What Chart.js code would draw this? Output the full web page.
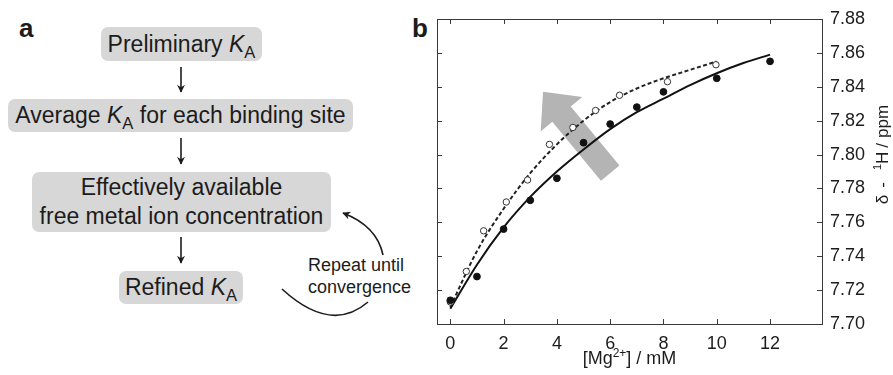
<!DOCTYPE html>
<html>
<head>
<meta charset="utf-8">
<script src="https://cdn.jsdelivr.net/npm/chart.js@4.4.1/dist/chart.umd.min.js"></script>
<style>
  html, body { margin: 0; padding: 0; background: #fff; }
  body { width: 893px; height: 375px; position: relative; overflow: hidden;
         font-family: "Liberation Sans", Arial, sans-serif; color: #1c1c1c; }
  .panel { position: absolute; font-weight: bold; font-size: 26px; line-height: 1; }
  .box { position: absolute; background: #d7d7d7; border-radius: 7px;
         display: flex; flex-direction: column; align-items: center; justify-content: center;
         font-size: 23px; line-height: 29px; white-space: nowrap; }
  .box sub { font-size: 0.72em; line-height: 0; vertical-align: -0.38em; }
  .note { position: absolute; font-size: 18px; line-height: 22px; left: 308px; top: 254px; }
  #flowArrows { position: absolute; left: 0; top: 0; }
  #chartWrap { position: absolute; left: 420px; top: 0; width: 473px; height: 375px; }
</style>
</head>
<body>

<div class="panel" style="left:19px;top:15px">a</div>
<div class="panel" style="left:412px;top:15px">b</div>

<div class="box" style="left:101px;top:27px;width:161px;height:34px"><span>Preliminary <i>K</i><sub>A</sub></span></div>
<div class="box" style="left:8px;top:99px;width:345px;height:33px"><span>Average <i>K</i><sub>A</sub> for each binding site</span></div>
<div class="box" style="left:32px;top:172px;width:299px;height:60px"><span>Effectively available</span><span>free metal ion concentration</span></div>
<div class="box" style="left:119px;top:271px;width:124px;height:33px"><span>Refined <i>K</i><sub>A</sub></span></div>
<div class="note">Repeat until<br>convergence</div>

<svg id="flowArrows" width="420" height="375">
  <defs>
    <marker id="head" viewBox="0 0 10 10" refX="9" refY="5" markerWidth="8" markerHeight="8" orient="auto" markerUnits="userSpaceOnUse">
      <path d="M0,0 L10,5 L0,10 L3,5 Z" fill="#1c1c1c"/>
    </marker>
  </defs>
  <g stroke="#1c1c1c" stroke-width="1.6" fill="none">
    <line x1="181" y1="67" x2="181" y2="92" marker-end="url(#head)"/>
    <line x1="181" y1="138" x2="181" y2="164" marker-end="url(#head)"/>
    <line x1="181" y1="237" x2="181" y2="263" marker-end="url(#head)"/>
    <path d="M383,255 Q377,226 343,213" marker-end="url(#head)"/>
    <path d="M282,289 Q331,334 368,302"/>
  </g>
</svg>

<div id="chartWrap"><canvas id="shiftChart"></canvas></div>

<script>
// tick labels
const xTicks = [0, 2, 4, 6, 8, 10, 12];
const yTicks = [7.70, 7.72, 7.74, 7.76, 7.78, 7.80, 7.82, 7.84, 7.86, 7.88];

// measured shifts, total Mg2+ (filled circles)
const concFilled = [0, 1, 2, 3, 4, 5, 6, 7, 8, 10, 12];
const shiftFilled = [7.714, 7.728, 7.756, 7.773, 7.786, 7.807, 7.818, 7.828, 7.837, 7.845, 7.855];

// same shifts against effectively available Mg2+ (open circles)
const concOpen = [0, 0.6, 1.25, 2.1, 2.9, 3.72, 4.6, 5.45, 6.35, 8.15, 9.97];
const shiftOpen = [7.713, 7.731, 7.755, 7.772, 7.785, 7.806, 7.816, 7.826, 7.835, 7.843, 7.853];

// fitted curves
const fitConcSolid = [0, 1, 2, 3, 4, 5, 6, 7, 8, 9, 10, 11, 12];
const fitSolid = [7.709, 7.735, 7.757, 7.775, 7.790, 7.803, 7.815, 7.825, 7.833, 7.841, 7.848, 7.854, 7.859];
const fitConcDashed = [0, 1, 2, 3, 4, 5, 6, 7, 8, 9, 10];
const fitDashed = [7.710, 7.743, 7.768, 7.789, 7.806, 7.820, 7.831, 7.839, 7.845, 7.850, 7.855];

const toXY = (xs, ys) => xs.map((x, i) => ({ x: x, y: ys[i] }));

const TXT = '#1c1c1c';
const FONT = '"Liberation Sans", Arial, sans-serif';

// big grey arrow behind the curves (data anchored)
const greyArrow = {
    id: 'greyArrow',
    beforeDatasetsDraw(chart) {
        const { ctx, scales: { x, y } } = chart;
        const tx = x.getPixelForValue(6.0), ty = y.getPixelForValue(7.789);
        const px = x.getPixelForValue(3.48), py = y.getPixelForValue(7.837);
        const len = Math.hypot(px - tx, py - ty);
        const ux = (px - tx) / len, uy = (py - ty) / len;
        const nx = -uy, ny = ux;
        const sw = 12, hw = 27, hl = 29;
        const hx = px - ux * hl, hy = py - uy * hl;
        ctx.save();
        ctx.fillStyle = '#b4b4b4';
        ctx.beginPath();
        ctx.moveTo(tx + nx * sw, ty + ny * sw);
        ctx.lineTo(hx + nx * sw, hy + ny * sw);
        ctx.lineTo(hx + nx * hw, hy + ny * hw);
        ctx.lineTo(px, py);
        ctx.lineTo(hx - nx * hw, hy - ny * hw);
        ctx.lineTo(hx - nx * sw, hy - ny * sw);
        ctx.lineTo(tx - nx * sw, ty - ny * sw);
        ctx.closePath();
        ctx.fill();
        ctx.restore();
    }
};

// box frame, inward ticks on all sides, axis titles with superscripts
const frame = {
    id: 'frame',
    afterDraw(chart) {
        const { ctx, chartArea: a, scales: { x, y } } = chart;
        ctx.save();
        ctx.strokeStyle = '#3a3a3a';
        ctx.lineWidth = 1;
        ctx.strokeRect(Math.round(a.left) + 0.5, Math.round(a.top) + 0.5,
            Math.round(a.right - a.left), Math.round(a.bottom - a.top));
        ctx.beginPath();
        x.ticks.forEach(t => {
            const p = Math.round(x.getPixelForValue(t.value)) + 0.5;
            ctx.moveTo(p, a.bottom); ctx.lineTo(p, a.bottom - 5);
            ctx.moveTo(p, a.top); ctx.lineTo(p, a.top + 5);
        });
        y.ticks.forEach(t => {
            const p = Math.round(y.getPixelForValue(t.value)) + 0.5;
            ctx.moveTo(a.left, p); ctx.lineTo(a.left + 5, p);
            ctx.moveTo(a.right, p); ctx.lineTo(a.right - 5, p);
        });
        ctx.stroke();

        ctx.fillStyle = TXT;
        ctx.textBaseline = 'alphabetic';
        ctx.textAlign = 'left';
        // parts: [text, size, raise] or a number = extra gap in px
        const drawParts = (parts, cx, cy) => {
            const wid = p => {
                if (typeof p === 'number') return p;
                ctx.font = p[1] + 'px ' + FONT;
                return ctx.measureText(p[0]).width;
            };
            let cur = cx - parts.reduce((s, p) => s + wid(p), 0) / 2;
            parts.forEach(p => {
                const w = wid(p);
                if (typeof p !== 'number') ctx.fillText(p[0], cur, cy - p[2]);
                cur += w;
            });
        };
        drawParts([['[Mg', 18, 0], ['2+', 12, 7], ['] / mM', 18, 0]], (a.left + a.right) / 2, 364);

        ctx.translate(468, (a.top + a.bottom) / 2 - 17);
        ctx.rotate(-Math.PI / 2);
        drawParts([['\u03B4', 17, 0], 7, ['-', 17, 0], 12, ['1', 11, 7], ['H', 17, 0], 4,
            ['/', 17, 0], 5, ['ppm', 17, 0]], 0, 0);
        ctx.restore();
    }
};

new Chart(document.getElementById('shiftChart'), {
    type: 'scatter',
    data: {
        datasets: [
            {
                label: 'total',
                data: toXY(concFilled, shiftFilled),
                backgroundColor: '#111',
                borderColor: '#111',
                pointRadius: 3.4,
                order: 0
            },
            {
                label: 'free',
                data: toXY(concOpen, shiftOpen),
                backgroundColor: '#fff',
                borderColor: '#333',
                borderWidth: 1,
                pointRadius: 3.2,
                order: 1
            },
            {
                label: 'fit total',
                data: toXY(fitConcSolid, fitSolid),
                showLine: true,
                borderColor: '#111',
                borderWidth: 2,
                pointRadius: 0,
                cubicInterpolationMode: 'monotone',
                order: 2
            },
            {
                label: 'fit free',
                data: toXY(fitConcDashed, fitDashed),
                showLine: true,
                borderColor: '#222',
                borderWidth: 2,
                borderDash: [4, 2.5],
                pointRadius: 0,
                cubicInterpolationMode: 'monotone',
                order: 3
            }
        ]
    },
    options: {
        responsive: true,
        maintainAspectRatio: false,
        animation: false,
        devicePixelRatio: 1,
        layout: { padding: { left: 17, top: 19, right: 0, bottom: 0 } },
        plugins: { legend: { display: false }, tooltip: { enabled: false } },
        scales: {
            x: {
                type: 'linear',
                min: -0.5,
                max: 13.95,
                afterBuildTicks: s => { s.ticks = xTicks.map(v => ({ value: v })); },
                afterFit: s => { s.height = 51; },
                grid: { display: false, drawTicks: false },
                border: { display: false },
                ticks: {
                    color: TXT, padding: 9, maxRotation: 0, autoSkip: false,
                    font: { family: FONT, size: 18 }
                }
            },
            y: {
                position: 'right',
                min: 7.70,
                max: 7.88,
                afterBuildTicks: s => { s.ticks = yTicks.map(v => ({ value: v })); },
                afterFit: s => { s.width = 71; },
                grid: { display: false, drawTicks: false },
                border: { display: false },
                ticks: {
                    color: TXT, padding: 8, autoSkip: false,
                    font: { family: FONT, size: 18 },
                    callback: v => v.toFixed(2)
                }
            }
        }
    },
    plugins: [greyArrow, frame]
});
</script>
</body>
</html>
